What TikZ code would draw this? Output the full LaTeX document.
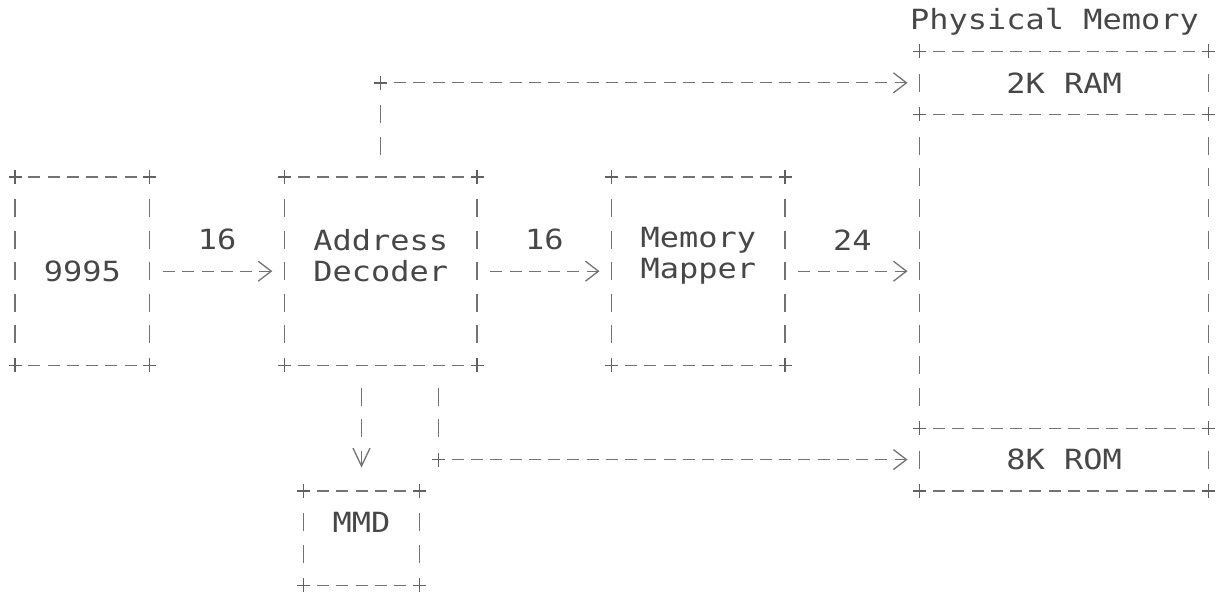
\documentclass[tikz,border=0pt]{standalone}
\usepackage{fontspec}
\newfontfamily\ascfont[FakeStretch=1.15]{DejaVu Sans Mono}
\usetikzlibrary{arrows.meta}
\begin{document}
\begin{tikzpicture}[x=1pt,y=-1pt,
  ink/.style={draw=black!55, line width=1.3pt},
  txt/.style={font=\ascfont\fontsize{27.8}{31.4}\selectfont, text=black!72, inner sep=0pt, align=center},
  box/.style={inner sep=0pt, outer sep=0pt, rectangle},
  hline/.style={ink, dash pattern=on 12pt off 7.25pt, shorten <=13.25pt, shorten >=13.25pt},
  vline/.style={ink, dash pattern=on 18pt off 13.4pt, shorten <=22.4pt, shorten >=22.4pt},
  tipH/.style={-{Straight Barb[length=13pt,width=20pt]}},
  tipV/.style={-{Straight Barb[length=18pt,width=17pt]}},
  cross/.style={draw=black!62, line width=1.4pt},
]
\useasboundingbox (0,0) rectangle (1225,592);

% boxes
\node[box, txt, minimum width=134.75pt, minimum height=188.4pt] (cpu) at (82.375,271.2) {9995};
\node[box, minimum width=192.5pt, minimum height=188.4pt] (dec) at (380.75,271.2) {};
\node[txt] (dectxt) at (380.75,255.5) {Address\\Decoder};
\node[box, minimum width=173.25pt, minimum height=188.4pt] (map) at (698.375,271.2) {};
\node[txt] (maptxt) at (698.375,255.5) {Memory\\Mapper};
\node[txt] (title) at (1054.5,22) {Physical Memory};
\node[box, txt, minimum width=288.75pt, minimum height=62.8pt] (ram) at (1064.125,82.8) {2K RAM};
\node[box, minimum width=288.75pt, minimum height=314pt] (mid) at (1064.125,271.2) {};
\node[box, txt, minimum width=288.75pt, minimum height=62.8pt] (rom) at (1064.125,459.6) {8K ROM};
\node[box, minimum width=115.5pt, minimum height=94.2pt] (mmd) at (361.5,538.1) {};
\node[txt] (mmdtxt) at (361.5,522.4) {MMD};

% borders with + corners
\foreach \n in {cpu,dec,map,ram,mid,rom,mmd}{
  \draw[hline] (\n.north west) -- (\n.north east);
  \draw[hline] (\n.south west) -- (\n.south east);
  \draw[vline] (\n.north west) -- (\n.south west);
  \draw[vline] (\n.north east) -- (\n.south east);
  \foreach \a in {north west,north east,south west,south east}
    \draw[cross] (\n.\a) +(-6.5,0) -- +(6.5,0) +(0,-7) -- +(0,7);
}

% main data path
\draw[hline, tipH, shorten >=12.25pt] (cpu) -- node[txt, midway, yshift=31.4pt] (l1) {16} (dec);
\draw[hline, tipH, shorten >=12.25pt] (dec) -- node[txt, midway, yshift=31.4pt] (l2) {16} (map);
\draw[hline, tipH, shorten >=12.25pt] (map) -- node[txt, midway, yshift=31.4pt] (l3) {24} (mid);

% decoder -> 2K RAM
\coordinate (c1) at (dec.north |- ram.west);
\draw[vline] (dec.north) -- (c1);
\draw[hline, tipH, shorten >=12.25pt] (c1) -- (ram.west);
\draw[cross] (c1) +(-6.5,0) -- +(6.5,0) +(0,-7) -- +(0,7);

% decoder -> 8K ROM
\coordinate (d2) at ([xshift=57.75pt]dec.south);
\coordinate (c2) at (d2 |- rom.west);
\draw[vline] (d2) -- (c2);
\draw[hline, tipH, shorten >=12.25pt] (c2) -- (rom.west);
\draw[cross] (c2) +(-6.5,0) -- +(6.5,0) +(0,-7) -- +(0,7);

% decoder -> MMD
\coordinate (d1) at (mmd.north |- dec.south);
\draw[vline, tipV, shorten >=23.4pt] (d1) -- (mmd.north);
\end{tikzpicture}
\end{document}
